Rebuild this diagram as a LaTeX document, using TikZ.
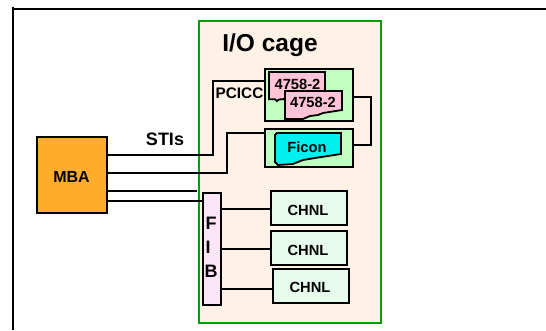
\documentclass[tikz,border=0pt]{standalone}
\usepackage{fontspec}
\setmainfont{Liberation Sans}
\definecolor{cagegreen}{HTML}{009F00}
\definecolor{cagefill}{HTML}{FEF1E6}
\definecolor{mbafill}{HTML}{FFAD2B}
\definecolor{fibfill}{HTML}{FDE5F8}
\definecolor{chnlfill}{HTML}{E8FCEE}
\definecolor{boardfill}{HTML}{BFFFBF}
\definecolor{cardfill}{HTML}{FFC4D6}
\definecolor{ficonfill}{HTML}{00F0F0}
\tikzset{
  wire/.style={black, line width=1.8pt},
  unit/.style={draw=black, line width=1.8pt, inner sep=0pt},
  chnlbox/.style={unit, fill=chnlfill, minimum width=76pt, minimum height=34pt},
  boardbox/.style={unit, fill=boardfill, minimum width=88pt},
  card/.style={draw=black, line width=1.8pt, line join=miter},
  tag/.style={inner sep=0pt, font=\bfseries\fontsize{14.7}{16}\selectfont},
  fibtag/.style={inner sep=0pt, font=\bfseries\fontsize{18}{20}\selectfont},
}
\begin{document}
\begin{tikzpicture}[x=1pt, y=-1pt]
                \useasboundingbox (0,0) rectangle (546,330);
                \coordinate (framecorner) at (13,9);
                \coordinate (frameright) at (546,9);
                \coordinate (framebottom) at (13,330);
                \draw[wire, line width=2.3pt] (framebottom) -- (13,6.5);
                \draw[wire, line width=2.3pt] (framecorner) -- (frameright);
                \node[draw=cagegreen, fill=cagefill, line width=1.8pt, minimum width=182pt, minimum height=302pt, inner sep=0pt] (cage) at (290,172) {};
                \node[inner sep=0pt, font=\bfseries\fontsize{24.5}{26}\selectfont] (cagetitle) at (270,45) {I/O cage};
                \node[unit, fill=mbafill, minimum width=70pt, minimum height=76pt] (mba) at (72,175) {};
                \node[tag, font=\bfseries\fontsize{16}{18}\selectfont] (mbatext) at (71.5,177) {MBA};
                \node[boardbox, minimum height=52pt] (crypto) at (309,95) {};
                \node[boardbox, minimum height=38pt] (ficonboard) at (309,148) {};
                \node[unit, fill=fibfill, minimum width=18pt, minimum height=112pt] (fib) at (212,249) {};
                \node[chnlbox] (chnla) at (309,208) {};
                \node[chnlbox] (chnlb) at (309,248) {};
                \node[chnlbox] (chnlc) at (311,286) {};
                \node[tag] (chnlatext) at (308,210) {CHNL};
                \node[tag] (chnlbtext) at (308,250) {CHNL};
                \node[tag] (chnlctext) at (310,287.5) {CHNL};
                \node[fibtag] (fibf) at (211,223) {F};
                \node[fibtag] (fibi) at (208,247) {I};
                \node[fibtag] (fibb) at (211,271) {B};
                \node[fibtag] (stis) at (165,139) {STIs};
                \node[tag, font=\bfseries\fontsize{15.3}{17}\selectfont] (pcicc) at (239.5,93.5) {PCICC};
                % the cards
                \draw[card, fill=cardfill] (269,72) -- (325,72) -- (325,96) -- (285,99) -- (279,99.5) -- (277,101) -- (275,99.3) -- (269,99.3) -- cycle;
                \draw[card, fill=cardfill] (285,91) -- (342,91) -- (342,110) -- (323,113) -- (318,115) -- (310,116) -- (303,119) -- (285,119) -- cycle;
                \draw[card, fill=ficonfill] (277,133) -- (341,133) -- (341,154) -- (315,158) -- (303,160) -- (293,164) -- (278,165) -- (275,162) -- (275,135) -- cycle;
                \node[tag] (carda) at (297.5,84) {4758-2};
                \node[tag] (cardb) at (313,102) {4758-2};
                \node[tag] (ficon) at (307,147) {Ficon};
                % links from the MBA
                \draw[wire] (mba.east |- 0,155) -- (213,155) -- (213,81) -- (crypto.west |- 0,81);
                \draw[wire] (mba.east |- 0,173) -- (227,173) -- (227,133) -- (ficonboard.west |- 0,133);
                \coordinate (stub) at (197,191);
                \draw[wire] (mba.east |- stub) -- (stub);
                \draw[wire] (mba.east |- 0,201) -- (fib.west |- 0,201);
                % links inside the cage
                \draw[wire] (crypto.east |- 0,97) -- (371,97) -- (371,145) -- (ficonboard.east |- 0,145);
                \draw[wire] (fib.east |- 0,209) -- (chnla.west |- 0,209);
                \draw[wire] (fib.east |- 0,249) -- (chnlb.west |- 0,249);
                \draw[wire] (fib.east |- 0,289) -- (chnlc.west |- 0,289);
            \end{tikzpicture}
\end{document}
